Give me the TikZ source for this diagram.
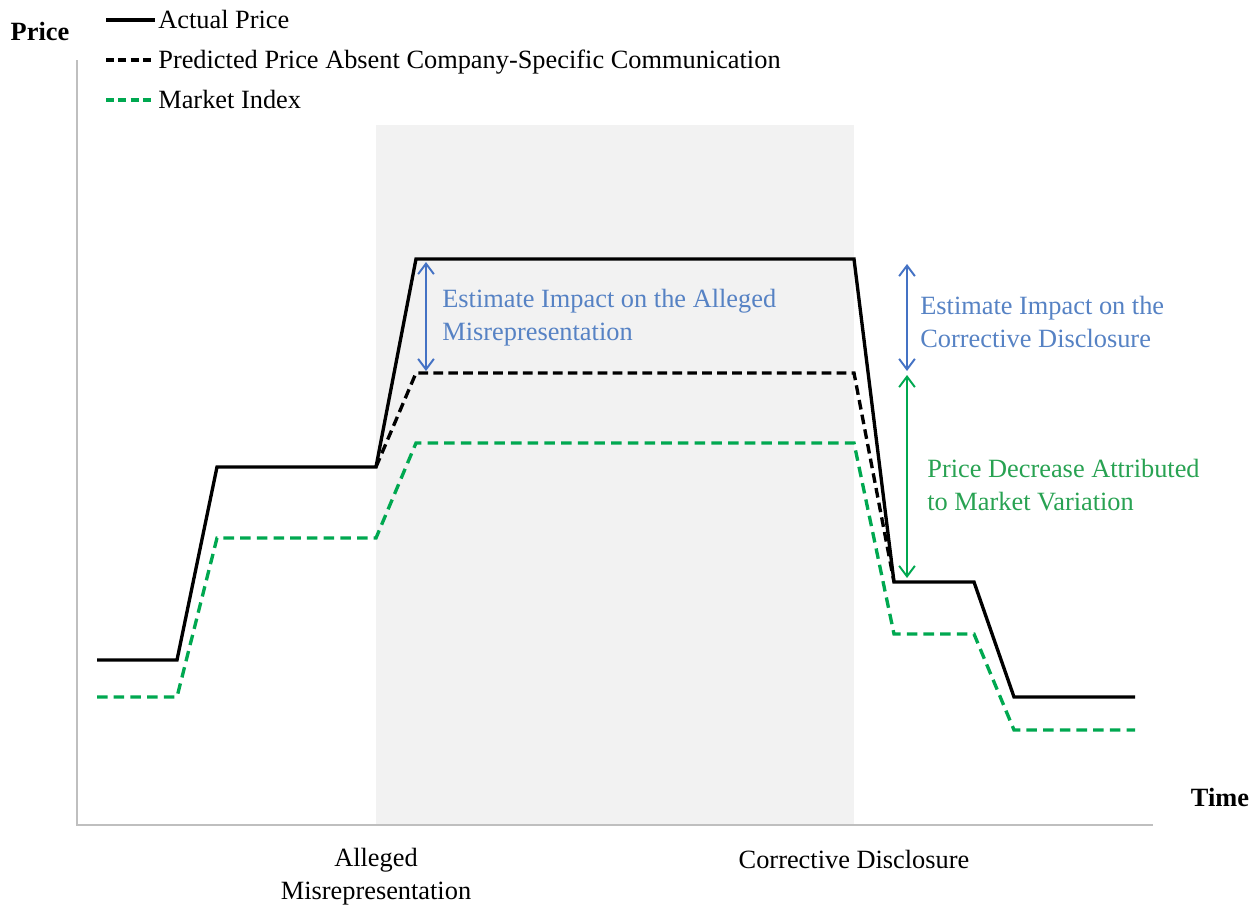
\documentclass[tikz,border=0pt]{standalone}
\usepackage{fontspec}
\setmainfont{Liberation Serif}
\usetikzlibrary{arrows.meta, positioning}

\definecolor{axisgray}{RGB}{191,191,191}
\definecolor{shadegray}{RGB}{242,242,242}
\definecolor{mkgreen}{RGB}{0,168,80}
\definecolor{txtgreen}{RGB}{40,162,82}
\definecolor{impblue}{RGB}{68,114,196}
\definecolor{txtblue}{RGB}{86,130,196}

\tikzset{
	lbl/.style={font=\fontsize{15}{18.5}\selectfont, inner sep=0pt, align=left},
	axislbl/.style={font=\fontsize{15}{18.5}\selectfont\bfseries, inner sep=0pt},
	actual/.style={line width=1.9pt, black},
	predicted/.style={line width=1.9pt, black, dash pattern=on 5.5pt off 3pt},
	market/.style={line width=1.9pt, mkgreen, dash pattern=on 6pt off 3.5pt},
	axisline/.style={axisgray, line width=0.9pt},
	impact/.style={impblue, line width=1.1pt, {Straight Barb[length=6pt,width=9pt]}-{Straight Barb[length=6pt,width=9pt]}},
	marketvar/.style={impact, mkgreen}
}

\begin{document}
\begin{tikzpicture}[x=0.2mm, y=-0.2mm]
	\useasboundingbox (0,0) rectangle (1250,907);

	% event window
	\fill[shadegray] (376,125) rectangle (854,825);

	% axes
	\coordinate (ytop) at (77,60);
	\coordinate (origin) at (77,825);
	\coordinate (xend) at (1153,825);
	\draw[axisline] (ytop) -- (origin) -- (xend);
	\node[axislbl, anchor=base] (pricelbl) at (40,40) {Price};
	\node[axislbl, anchor=base] (timelbl) at (1220,806) {Time};

	% price paths
	\draw[market] (97,697) -- (177,697) -- (217,538) -- (376,538) -- (416,443) -- (854,443)
		-- (894,634) -- (974,634) -- (1014,730) -- (1135,730);
	\draw[predicted] (376,467) -- (416,373) -- (854,373) -- (894,582);
	\draw[actual] (97,660) -- (177,660) -- (217,467) -- (376,467) -- (416,259) -- (854,259)
		-- (894,582) -- (974,582) -- (1014,697) -- (1135,697);

	% impact arrows
	\coordinate (amTop) at (426,262);
	\coordinate (amBot) at (426,371);
	\coordinate (cdTop) at (907,264);
	\coordinate (cdBot) at (907,371);
	\coordinate (mvTop) at (907,375);
	\coordinate (mvBot) at (907,578);
	\draw[impact] (amTop) -- (amBot);
	\draw[impact] (cdTop) -- (cdBot);
	\draw[marketvar] (mvTop) -- (mvBot);

	% base of a two-line node is its last line
	\node[lbl, txtblue, anchor=base west] (amlbl) at (442,340) {Estimate Impact on the Alleged\\Misrepresentation};
	\node[lbl, txtblue, anchor=base west] (cdlbl) at (920,347) {Estimate Impact on the\\Corrective Disclosure};
	\node[lbl, txtgreen, anchor=base west] (mvlbl) at (927,510) {Price Decrease Attributed\\to Market Variation};

	% event labels
	\node[lbl, align=center, anchor=base] (amevent) at (376,899) {Alleged\\Misrepresentation};
	\node[lbl, anchor=base] (cdevent) at (854,868) {Corrective Disclosure};

	% legend
	\node[lbl, anchor=base west] (legA) at (158,28) {Actual Price};
	\node[lbl, anchor=base west] (legP) at (158,68) {Predicted Price Absent Company-Specific Communication};
	\node[lbl, anchor=base west] (legM) at (158,108) {Market Index};
	\coordinate (legAs) at (106,20);
	\coordinate (legPs) at (106,60);
	\coordinate (legMs) at (106,100);
	\draw[actual] (legAs) -- (155,20);
	\draw[predicted, dash pattern=on 4.5pt off 2.5pt] (legPs) -- (155,60);
	\draw[market, dash pattern=on 4.5pt off 2.5pt] (legMs) -- (155,100);
\end{tikzpicture}
\end{document}
